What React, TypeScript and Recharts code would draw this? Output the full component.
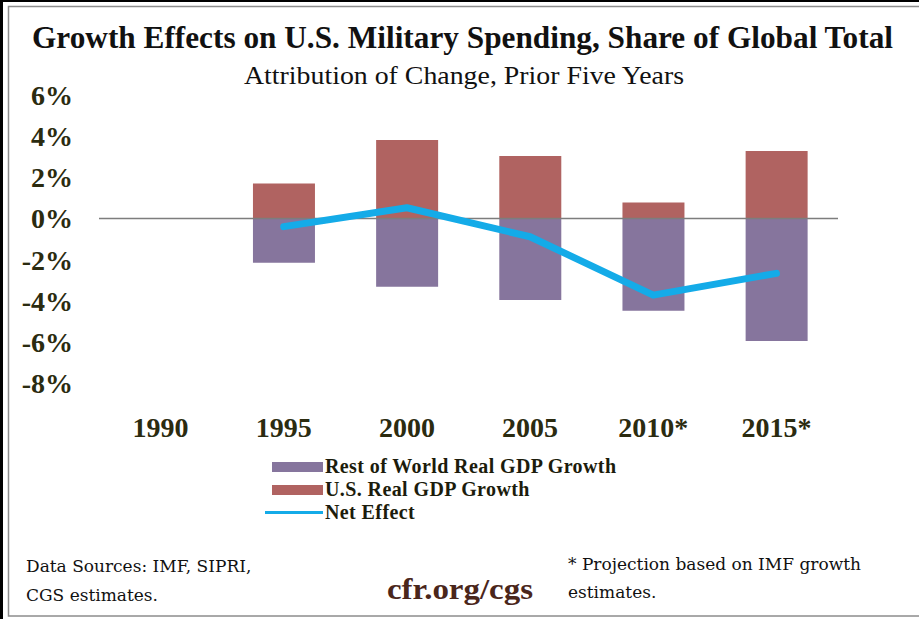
import React from 'react';
import { ComposedChart, Bar, Line, XAxis, YAxis, ReferenceLine, Legend } from 'recharts';

const years = ['1990', '1995', '2000', '2005', '2010*', '2015*'];
const restOfWorld = [null, -2.15, -3.32, -3.97, -4.49, -5.96];
const usGrowth = [null, 1.7, 3.81, 3.03, 0.78, 3.28];
const netEffect = [null, -0.4, 0.52, -0.89, -3.73, -2.67];
const yTicks = [-8, -6, -4, -2, 0, 2, 4, 6];

const seriesNames = {
  rest: 'Rest of World Real GDP Growth',
  us: 'U.S. Real GDP Growth',
  net: 'Net Effect',
};
const legendOrder = [seriesNames.rest, seriesNames.us, seriesNames.net];

const title = 'Growth Effects on U.S. Military Spending, Share of Global Total';
const subtitle = 'Attribution of Change, Prior Five Years';
const sourceLines = ['Data Sources: IMF, SIPRI,', 'CGS estimates.'];
const noteLines = ['* Projection based on IMF growth', 'estimates.'];
const brand = 'cfr.org/cgs';

const data = years.map((year, i) => ({
  year,
  rest: restOfWorld[i],
  us: usGrowth[i],
  net: netEffect[i],
}));

const PURPLE = '#86759d';
const RED = '#b06361';
const BLUE = '#14abe8';
const TICK = '#2b2b10';
const SERIF = "'Liberation Serif', 'Times New Roman', serif";

const renderLegend = (props: any) => {
  const payload = [...(props.payload || [])].sort(
    (a: any, b: any) => legendOrder.indexOf(a.value) - legendOrder.indexOf(b.value)
  );
  return (
    <div style={{ fontFamily: SERIF, fontWeight: 'bold', fontSize: 20, color: '#1c1c0c' }}>
      {payload.map((entry: any) => (
        <div key={entry.value} style={{ display: 'flex', alignItems: 'center', height: 23 }}>
          <div style={{ width: 62, display: 'flex', justifyContent: 'flex-end' }}>
            {entry.type === 'line' ? (
              <div style={{ width: 58, height: 3, background: entry.color }} />
            ) : (
              <div style={{ width: 51, height: 10, background: entry.color }} />
            )}
          </div>
          <span style={{ marginLeft: 2, whiteSpace: 'nowrap', letterSpacing: 0.4 }}>{entry.value}</span>
        </div>
      ))}
    </div>
  );
};

export default function App() {
  return (
    <div style={{ position: 'absolute', left: 0, top: 0, width: 919, height: 619, background: '#fff', overflow: 'hidden' }}>
      <ComposedChart
        width={919}
        height={619}
        data={data}
        stackOffset="sign"
        barCategoryGap="25%"
        margin={{ top: 95, right: 81, bottom: 196, left: 39 }}
      >
        <XAxis
          dataKey="year"
          axisLine={false}
          tickLine={false}
          tickSize={0}
          tickMargin={34}
          height={40}
          interval={0}
          tick={{ fontFamily: SERIF, fontWeight: 'bold', fontSize: 28, fill: TICK }}
        />
        <YAxis
          type="number"
          domain={[-8, 6]}
          ticks={yTicks}
          width={60}
          axisLine={false}
          tickLine={false}
          tickSize={0}
          tickMargin={26}
          interval={0}
          tickFormatter={(v: number) => `${v}%`}
          tick={{ fontFamily: SERIF, fontWeight: 'bold', fontSize: 28, fill: TICK }}
        />
        <ReferenceLine y={0} stroke="#7d7d7d" strokeWidth={1.5} />
        <Bar dataKey="rest" name={seriesNames.rest} stackId="s" fill={PURPLE} legendType="rect" isAnimationActive={false} />
        <Bar dataKey="us" name={seriesNames.us} stackId="s" fill={RED} legendType="rect" isAnimationActive={false} />
        <Line
          dataKey="net"
          name={seriesNames.net}
          type="linear"
          stroke={BLUE}
          strokeWidth={7}
          strokeLinecap="round"
          strokeLinejoin="round"
          dot={false}
          activeDot={false}
          legendType="line"
          isAnimationActive={false}
        />
        <Legend
          layout="vertical"
          align="center"
          verticalAlign="middle"
          content={renderLegend}
          wrapperStyle={{ position: 'absolute', left: 261, top: 455, width: 420 }}
        />
      </ComposedChart>
      <svg
        width={919}
        height={619}
        style={{ position: 'absolute', left: 0, top: 0, pointerEvents: 'none' }}
      >
        <line x1={0} y1={1} x2={919} y2={1} stroke="#000" strokeWidth={2} />
        <line x1={1.5} y1={0} x2={1.5} y2={619} stroke="#000" strokeWidth={3} />
        <rect x={8.5} y={6.5} width={920} height={609.5} fill="none" stroke="#8c8c8c" strokeWidth={1.5} />
        <text
          x={32}
          y={48}
          fontFamily={SERIF}
          fontWeight="bold"
          fontSize={31}
          fill="#111"
          textLength={861}
          lengthAdjust="spacingAndGlyphs"
        >
          {title}
        </text>
        <text
          x={244}
          y={84}
          fontFamily={SERIF}
          fontSize={25}
          fill="#111"
          textLength={440}
          lengthAdjust="spacingAndGlyphs"
        >
          {subtitle}
        </text>
        {sourceLines.map((s, i) => (
          <text key={s} x={26} y={572 + i * 29} fontFamily="'DejaVu Serif', serif" fontSize={17} fill="#111">
            {s}
          </text>
        ))}
        <text
          x={387}
          y={599}
          fontFamily={SERIF}
          fontWeight="bold"
          fontSize={30}
          fill="#4a261b"
          textLength={146}
          lengthAdjust="spacingAndGlyphs"
        >
          {brand}
        </text>
        {noteLines.map((s, i) => (
          <text key={s} x={568} y={570 + i * 28} fontFamily="'DejaVu Serif', serif" fontSize={17} fill="#111">
            {s}
          </text>
        ))}
      </svg>
    </div>
  );
}
